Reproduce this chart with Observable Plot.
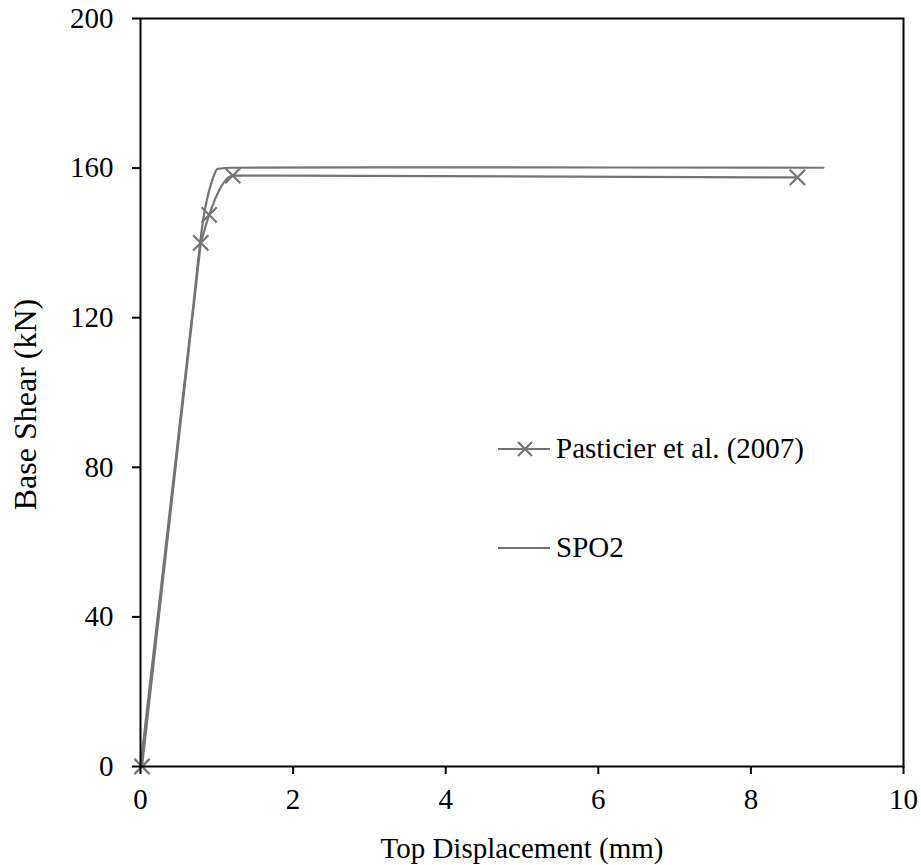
<!DOCTYPE html>
<html>
<head>
<meta charset="utf-8">
<script src="https://cdn.jsdelivr.net/npm/d3@7"></script>
<script src="https://cdn.jsdelivr.net/npm/@observablehq/plot@0.6"></script>
<style>
  html, body { margin: 0; padding: 0; background: #fff; }
  #wrap { position: relative; width: 921px; height: 865px; font-family: 'Liberation Serif', 'Times New Roman', serif; }
  #legend { position: absolute; left: 0; top: 0; pointer-events: none; }
</style>
</head>
<body>
<div id="wrap"></div>
<script>
// ---- data ----
const pasticierX = [0.02, 0.79, 0.90, 1.21, 8.61];
const pasticierY = [0, 140, 147.5, 158, 157.5];
const spo2X = [0, 0.70, 0.82, 0.94, 1.01, 1.2, 3.0, 8.95];
const spo2Y = [0, 124.6, 146, 156.7, 159.8, 160.1, 160.2, 160.1];
const xTicks = [0, 2, 4, 6, 8, 10];
const yTicks = [0, 40, 80, 120, 160, 200];
const seriesNames = ["Pasticier et al. (2007)", "SPO2"];
const xLabel = "Top Displacement (mm)";
const yLabel = "Base Shear (kN)";

const pasticier = pasticierX.map((x, i) => ({x, y: pasticierY[i]}));
const spo2 = spo2X.map((x, i) => ({x, y: spo2Y[i]}));

const lineColor = "#747474";
const fontSize = 29;
const serif = "'Liberation Serif', 'Times New Roman', serif";

const chart = Plot.plot({
  width: 921,
  height: 865,
  marginLeft: 140,
  marginRight: 18,
  marginTop: 18,
  marginBottom: 99,
  style: {fontFamily: serif, fontSize: fontSize + "px", color: "black", background: "white"},
  x: {domain: [0, 10]},
  y: {domain: [0, 200]},
  marks: [
    // straight elastic branch, then smoothed knee and plateau
    Plot.line(spo2.slice(0, 2), {x: "x", y: "y", stroke: lineColor, strokeWidth: 2.2}),
    Plot.line(spo2.slice(1), {x: "x", y: "y", stroke: lineColor, strokeWidth: 2.2, curve: "monotone-x"}),
    Plot.line(pasticier.slice(0, 2), {x: "x", y: "y", stroke: lineColor, strokeWidth: 2.2}),
    Plot.line(pasticier.slice(1), {x: "x", y: "y", stroke: lineColor, strokeWidth: 2.2, curve: "monotone-x"}),
    Plot.dot(pasticier, {x: "x", y: "y", symbol: "times", r: 7, stroke: lineColor, strokeWidth: 2.2}),
    Plot.frame({stroke: "black", strokeWidth: 2}),
    Plot.axisX({ticks: xTicks, tickSize: 8, tickPadding: 14, strokeWidth: 2, label: null, fontSize: fontSize}),
    Plot.axisY({ticks: yTicks, tickSize: 8, tickPadding: 19, strokeWidth: 2, label: null, fontSize: fontSize}),
    Plot.text([xLabel], {frameAnchor: "bottom", dy: 82, lineAnchor: "middle", textAnchor: "middle", fontSize: fontSize, fill: "black"}),
    Plot.text([yLabel], {frameAnchor: "left", dx: -115, dy: 12, rotate: -90, lineAnchor: "middle", textAnchor: "middle", fontSize: 32, fill: "black"})
  ]
});

const wrap = document.getElementById("wrap");
wrap.appendChild(chart);

// ---- legend (overlay) ----
const ns = "http://www.w3.org/2000/svg";
const leg = document.createElementNS(ns, "svg");
leg.setAttribute("id", "legend");
leg.setAttribute("width", 921);
leg.setAttribute("height", 865);
const rows = [{name: seriesNames[0], y: 449, marker: true}, {name: seriesNames[1], y: 548, marker: false}];
for (const r of rows) {
  const ln = document.createElementNS(ns, "line");
  ln.setAttribute("x1", 498); ln.setAttribute("x2", 550);
  ln.setAttribute("y1", r.y); ln.setAttribute("y2", r.y);
  ln.setAttribute("stroke", lineColor); ln.setAttribute("stroke-width", 2.2);
  leg.appendChild(ln);
  if (r.marker) {
    const m = document.createElementNS(ns, "path");
    const cx = 525, s = 7;
    m.setAttribute("d", `M${cx - s},${r.y - s}L${cx + s},${r.y + s}M${cx - s},${r.y + s}L${cx + s},${r.y - s}`);
    m.setAttribute("stroke", lineColor); m.setAttribute("stroke-width", 2.2);
    leg.appendChild(m);
  }
  const t = document.createElementNS(ns, "text");
  t.setAttribute("x", 556); t.setAttribute("y", r.y);
  t.setAttribute("dy", "0.32em");
  t.setAttribute("font-size", fontSize);
  t.setAttribute("font-family", serif);
  t.setAttribute("fill", "black");
  t.textContent = r.name;
  leg.appendChild(t);
}
wrap.appendChild(leg);
</script>
</body>
</html>
